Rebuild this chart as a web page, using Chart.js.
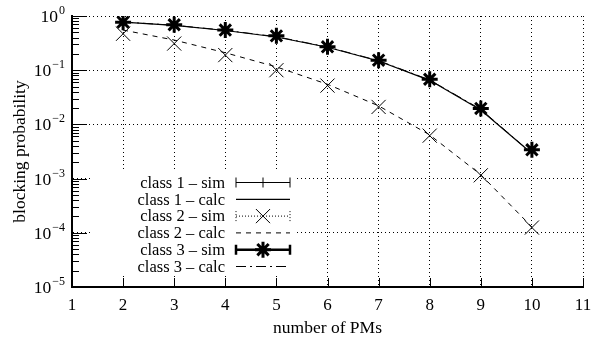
<!DOCTYPE html>
<html>
<head>
<meta charset="utf-8">
<title>blocking probability</title>
<script src="https://cdn.jsdelivr.net/npm/chart.js@4/dist/chart.umd.min.js"></script>
<style>
  html, body { margin: 0; padding: 0; background: #fff; }
  #wrap { width: 608px; height: 341px; }
</style>
</head>
<body>
<div id="wrap"><canvas id="grafico" width="608" height="341"></canvas></div>
<script>
// ─── Dados ───────────────────────────────────────────────────────────────────

const numPMs = [2, 3, 4, 5, 6, 7, 8, 9, 10];

const class1Sim  = [0.78, 0.68, 0.55, 0.42, 0.27, 0.15, 0.067, 0.019, 0.0033];
const class1Calc = [0.77, 0.67, 0.54, 0.41, 0.265, 0.148, 0.065, 0.0185, 0.0029];
const class2Sim  = [0.47, 0.31, 0.19, 0.10, 0.052, 0.021, 0.0062, 0.00115, 0.000125];
const class2Calc = [0.55, 0.36, 0.21, 0.115, 0.055, 0.022, 0.0064, 0.00118, 0.000128];
const class3Sim  = [0.77, 0.69, 0.55, 0.43, 0.27, 0.153, 0.068, 0.0197, 0.0034];
const class3Calc = [0.775, 0.675, 0.545, 0.415, 0.268, 0.15, 0.066, 0.019, 0.0029];

const seriesLabels = [
  'class 1 \u2013 sim', 'class 1 \u2013 calc',
  'class 2 \u2013 sim', 'class 2 \u2013 calc',
  'class 3 \u2013 sim', 'class 3 \u2013 calc',
];

const xTickLabels = ['1', '2', '3', '4', '5', '6', '7', '8', '9', '10', '11'];
const yTickValues = [1e-5, 1e-4, 1e-3, 1e-2, 1e-1, 1];
const yTickExponents = ['\u22125', '\u22124', '\u22123', '\u22122', '\u22121', '0'];

const xTitle = 'number of PMs';
const yTitle = 'blocking probability';

const SERIF = '"Liberation Serif", "DejaVu Serif", serif';

// ─── Helpers ─────────────────────────────────────────────────────────────────

function pts(ys) {
  return numPMs.map((x, i) => ({ x, y: ys[i] }));
}

function drawMarker(ctx, style, r, x, y) {
  const d = r * Math.SQRT1_2;
  ctx.beginPath();
  if (style === 'cross' || style === 'star') {
    ctx.moveTo(x - r, y); ctx.lineTo(x + r, y);
    ctx.moveTo(x, y - r); ctx.lineTo(x, y + r);
  }
  if (style === 'crossRot' || style === 'star') {
    ctx.moveTo(x - d, y - d); ctx.lineTo(x + d, y + d);
    ctx.moveTo(x - d, y + d); ctx.lineTo(x + d, y - d);
  }
  ctx.stroke();
}

// ─── Legenda + eixos (plugin) ────────────────────────────────────────────────

const gnuplotLook = {
  id: 'gnuplotLook',
  afterDatasetsDraw(chart) {
    const ctx = chart.ctx;
    ctx.save();
    ctx.fillStyle = '#fff';
    ctx.fillRect(90, 172, 204, 104);

    ctx.font = '16.5px ' + SERIF;
    ctx.textAlign = 'right';
    ctx.textBaseline = 'middle';
    chart.data.datasets.forEach((ds, i) => {
      const y = 182.5 + i * 16.8;
      ctx.fillStyle = '#000';
      ctx.fillText(ds.label, 225, y + 1);

      const x1 = 236, x2 = 290;
      ctx.strokeStyle = '#000';
      ctx.lineWidth = ds.legendWidth || ds.borderWidth || 1;
      ctx.setLineDash(ds.legendDash || ds.borderDash || []);
      ctx.beginPath();
      ctx.moveTo(x1, y); ctx.lineTo(x2, y);
      if (ds.showLine === false) {
        ctx.moveTo(x1, y - 5); ctx.lineTo(x1, y + 5);
        ctx.moveTo(x2, y - 5); ctx.lineTo(x2, y + 5);
      }
      ctx.stroke();
      if (ds.showLine === false) {
        ctx.setLineDash([]);
        ctx.lineWidth = ds.pointBorderWidth;
        drawMarker(ctx, ds.pointStyle, ds.pointRadius, (x1 + x2) / 2, y);
      }
    });
    ctx.restore();
  },
  afterDraw(chart) {
    const ctx = chart.ctx;
    const { left, bottom, top, right } = chart.chartArea;
    const xs = chart.scales.x, ys = chart.scales.y;
    ctx.save();
    ctx.strokeStyle = '#000';
    ctx.lineWidth = 1;
    ctx.setLineDash([]);

    // marcas no eixo y (maiores e menores)
    ctx.beginPath();
    yTickValues.forEach((v, k) => {
      const py = Math.round(ys.getPixelForValue(v)) + 0.5;
      ctx.moveTo(left, py); ctx.lineTo(left + 15, py);
      if (k < yTickValues.length - 1) {
        for (let m = 2; m <= 9; m++) {
          const pm = Math.round(ys.getPixelForValue(v * m)) + 0.5;
          ctx.moveTo(left, pm); ctx.lineTo(left + 7, pm);
        }
      }
    });
    // marcas no eixo x
    xTickLabels.forEach((_, k) => {
      const px = Math.round(xs.getPixelForValue(k + 1)) + 0.5;
      ctx.moveTo(px, bottom); ctx.lineTo(px, bottom - 9);
    });
    ctx.stroke();

    // rótulos do eixo y: 10 com expoente
    ctx.fillStyle = '#000';
    ctx.textBaseline = 'alphabetic';
    yTickValues.forEach((v, k) => {
      const py = ys.getPixelForValue(v);
      ctx.font = '12px ' + SERIF;
      ctx.textAlign = 'right';
      const supW = ctx.measureText(yTickExponents[k]).width;
      ctx.fillText(yTickExponents[k], 65, py - 2);
      ctx.font = '17.5px ' + SERIF;
      ctx.fillText('10', 65 - supW - 1, py + 6);
    });

    // títulos dos eixos
    ctx.font = '17.5px ' + SERIF;
    ctx.textAlign = 'center';
    ctx.textBaseline = 'middle';
    ctx.fillText(xTitle, (left + right) / 2, 328);
    ctx.translate(20, (top + bottom) / 2);
    ctx.rotate(-Math.PI / 2);
    ctx.fillText(yTitle, 0, 0);
    ctx.restore();
  },
};

// ─── Gráfico ─────────────────────────────────────────────────────────────────

const ctx = document.getElementById('grafico').getContext('2d');

new Chart(ctx, {
  type: 'scatter',
  plugins: [gnuplotLook],
  data: {
    datasets: [
      {
        label: seriesLabels[0], data: pts(class1Sim), showLine: false,
        pointStyle: 'cross', pointRadius: 5, pointBorderWidth: 1,
        borderColor: '#000', backgroundColor: '#000', legendWidth: 1,
      },
      {
        label: seriesLabels[1], data: pts(class1Calc), showLine: true,
        pointRadius: 0, borderWidth: 1.2, borderColor: '#000',
      },
      {
        label: seriesLabels[2], data: pts(class2Sim), showLine: false,
        pointStyle: 'crossRot', pointRadius: 10, pointBorderWidth: 1,
        borderColor: '#000', backgroundColor: '#000', legendWidth: 1, legendDash: [1, 2],
      },
      {
        label: seriesLabels[3], data: pts(class2Calc), showLine: true,
        pointRadius: 0, borderWidth: 1, borderColor: '#000', borderDash: [5, 5],
      },
      {
        label: seriesLabels[4], data: pts(class3Sim), showLine: false,
        pointStyle: 'star', pointRadius: 8, pointBorderWidth: 3,
        borderColor: '#000', backgroundColor: '#000', legendWidth: 2.5,
      },
      {
        label: seriesLabels[5], data: pts(class3Calc), showLine: true,
        pointRadius: 0, borderWidth: 1, borderColor: '#000', borderDash: [10, 4, 2, 4],
      },
    ],
  },
  options: {
    responsive: false,
    animation: false,
    layout: { padding: { top: 16, right: 25, left: 0, bottom: 0 } },
    plugins: {
      legend: { display: false },
      tooltip: { enabled: false },
    },
    elements: { line: { tension: 0 } },
    scales: {
      x: {
        type: 'linear', min: 1, max: 11,
        afterFit: (s) => { s.height = 54; },
        ticks: {
          stepSize: 1, color: '#000', padding: 8,
          font: { family: SERIF, size: 17 },
          callback: (v) => xTickLabels[v - 1],
        },
        grid: { color: '#000', lineWidth: 1, drawTicks: false },
        border: { display: true, color: '#000', width: 2, dash: [1, 3] },
      },
      y: {
        type: 'logarithmic', min: 1e-5, max: 1,
        afterFit: (s) => { s.width = 72; },
        afterBuildTicks: (s) => { s.ticks = yTickValues.map((v) => ({ value: v })); },
        ticks: { display: false },
        grid: { color: '#000', lineWidth: 1, drawTicks: false },
        border: { display: true, color: '#000', width: 2, dash: [1, 3] },
      },
    },
  },
});
</script>
</body>
</html>
